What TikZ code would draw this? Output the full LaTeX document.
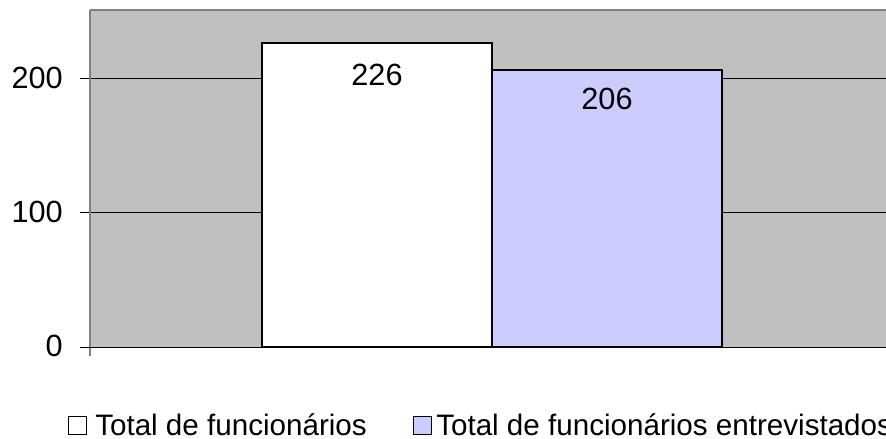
\documentclass[tikz,border=0pt]{standalone}
\usepackage{fontspec}
\setmainfont{Liberation Sans}
\definecolor{plotgray}{HTML}{C0C0C0}
\definecolor{axisgray}{HTML}{808080}
\definecolor{barblue}{HTML}{CCCCFF}
\begin{document}
\begin{tikzpicture}[x=0.75pt,y=-0.75pt,font=\fontsize{23}{27}\selectfont,
	bar/.style={draw=black,line width=1.5pt},
	keybox/.style={draw=black,line width=0.9pt,minimum size=13pt,inner sep=0pt},
	legtext/.style={anchor=base west,inner sep=0pt,font=\fontsize{22.2}{26}\selectfont},
	grid/.style={black,line width=0.7pt}]

	\useasboundingbox (0,0) rectangle (886,439);
	\clip (0,0) rectangle (886,439);

	% plot area
	\fill[plotgray] (90,10) rectangle (886,347);
	\draw[axisgray,line width=1pt] (90,10) -- (886,10);
	\foreach \y in {78,212} \draw[grid] (80,\y) -- (886,\y);

	% bars
	\draw[bar,fill=white] (262,347) rectangle (492,43);
	\draw[bar,fill=barblue] (492,347) rectangle (722,70);

	% axes
	\draw[axisgray,line width=1pt] (90,10) -- (90,356);
	\draw[grid] (80,347) -- (886,347);

	\node[anchor=east,inner sep=0pt] (Lab200) at (63,78) {200};
	\node[anchor=east,inner sep=0pt] (Lab100) at (63,212) {100};
	\node[anchor=east,inner sep=0pt] (Lab0) at (63,346) {0};

	\node[inner sep=0pt] (Val1) at (377,75) {226};
	\node[inner sep=0pt] (Val2) at (607,98.5) {206};

	% legend
	\node[keybox,fill=white] (Key1) at (77.5,425.5) {};
	\node[legtext] (Leg1) at (95,435) {Total de funcionários};
	\node[keybox,fill=barblue] (Key2) at (422.5,425.5) {};
	\node[legtext] (Leg2) at (436,435) {Total de funcionários entrevistados};

\end{tikzpicture}
\end{document}
